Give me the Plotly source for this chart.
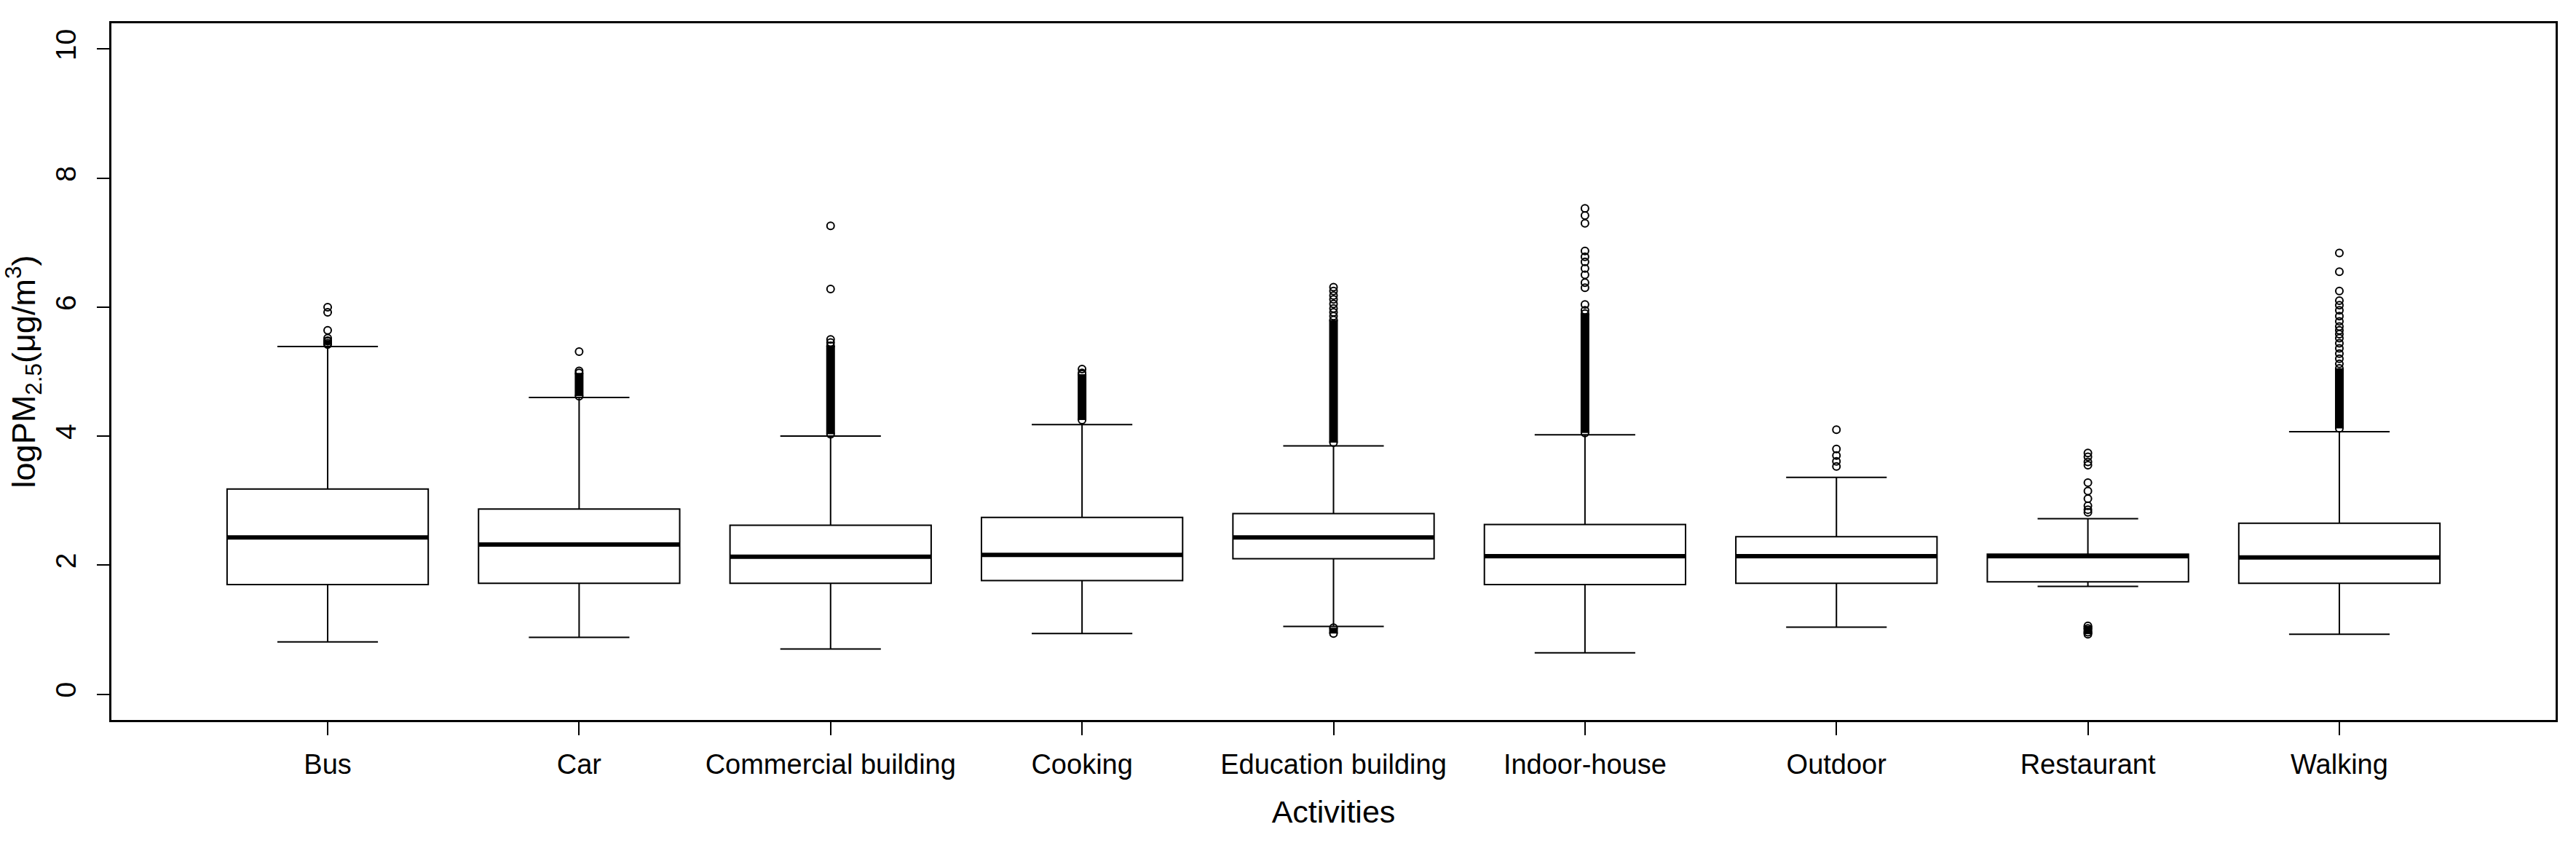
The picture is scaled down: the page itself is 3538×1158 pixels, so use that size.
import plotly.graph_objects as go

# ---------------- data ----------------
categories = ["Bus", "Car", "Commercial building", "Cooking", "Education building",
              "Indoor-house", "Outdoor", "Restaurant", "Walking"]
positions = [1, 2, 3, 4, 5, 6, 7, 8, 9]

q1 = [1.70, 1.72, 1.72, 1.76, 2.10, 1.70, 1.72, 1.74, 1.72]
median = [2.43, 2.32, 2.13, 2.16, 2.43, 2.14, 2.14, 2.14, 2.12]
q3 = [3.18, 2.87, 2.62, 2.74, 2.80, 2.63, 2.44, 2.17, 2.65]
lower_whisker = [0.81, 0.88, 0.70, 0.94, 1.05, 0.64, 1.04, 1.67, 0.93]
upper_whisker = [5.39, 4.60, 4.00, 4.18, 3.85, 4.02, 3.36, 2.72, 4.07]

# individual (sparse) outliers
outliers = [
    [5.44, 5.48, 5.52, 5.64, 5.92, 6.00],
    [5.01, 5.31],
    [5.45, 5.50, 6.28, 7.26],
    [4.98, 5.04],
    [5.86, 5.92, 5.98, 6.05, 6.12, 6.18, 6.25, 6.31],
    [5.95, 6.04, 6.30, 6.38, 6.50, 6.60, 6.70, 6.78, 6.87, 7.30, 7.42, 7.53],
    [3.53, 3.61, 3.70, 3.80, 4.10],
    [0.96, 1.02, 2.82, 2.86, 2.92, 3.03, 3.15, 3.28, 3.55, 3.60, 3.68, 3.74],
    [5.12, 5.20, 5.28, 5.36, 5.44, 5.52, 5.58, 5.64, 5.70, 5.78, 5.86, 5.95,
     6.03, 6.10, 6.25, 6.55, 6.84],
]

# ranges where outliers are so dense they form a solid column (low, high)
dense_upper_lo = [5.42, 4.62, 4.03, 4.25, 3.90, 4.05, None, None, 4.12]
dense_upper_hi = [5.47, 4.98, 5.40, 4.96, 5.80, 5.90, None, None, 5.05]
dense_lower_lo = [None, None, None, None, 0.94, None, None, 0.93, None]
dense_lower_hi = [None, None, None, None, 1.03, None, None, 1.06, None]

y_ticks = [0, 2, 4, 6, 8, 10]

# ---------------- figure ----------------
FONT = "Liberation Sans, Arial, sans-serif"
BOX_W = 0.8

fig = go.Figure()

for i, cat in enumerate(categories):
    fig.add_trace(go.Box(
        x=[positions[i]], q1=[q1[i]], median=[median[i]], q3=[q3[i]],
        lowerfence=[lower_whisker[i]], upperfence=[upper_whisker[i]],
        width=BOX_W, whiskerwidth=0.5, boxpoints=False,
        line=dict(color="black", width=2), fillcolor="white",
        name=cat, showlegend=False, hoverinfo="skip",
    ))

# thick median lines
mx, my = [], []
for i in range(len(categories)):
    mx += [positions[i] - BOX_W / 2, positions[i] + BOX_W / 2, None]
    my += [median[i], median[i], None]
fig.add_trace(go.Scatter(x=mx, y=my, mode="lines",
                         line=dict(color="black", width=6),
                         showlegend=False, hoverinfo="skip"))

# dense outlier columns
for lo_arr, hi_arr in [(dense_upper_lo, dense_upper_hi), (dense_lower_lo, dense_lower_hi)]:
    dx, dy = [], []
    for i in range(len(categories)):
        if lo_arr[i] is None:
            continue
        dx += [positions[i], positions[i], None]
        dy += [lo_arr[i], hi_arr[i], None]
    fig.add_trace(go.Scatter(x=dx, y=dy, mode="lines+markers",
                             line=dict(color="black", width=12),
                             marker=dict(symbol="circle-open", size=10, color="black",
                                         line=dict(width=2, color="black")),
                             showlegend=False, hoverinfo="skip"))

# sparse outliers
ox, oy = [], []
for i in range(len(categories)):
    for v in outliers[i]:
        ox.append(positions[i])
        oy.append(v)
fig.add_trace(go.Scatter(x=ox, y=oy, mode="markers",
                         marker=dict(symbol="circle-open", size=10, color="black",
                                     line=dict(width=2, color="black")),
                         showlegend=False, hoverinfo="skip"))

fig.update_layout(
    width=3538, height=1158,
    margin=dict(l=153, r=28, t=32, b=169, pad=0),
    paper_bgcolor="white", plot_bgcolor="white",
    font=dict(family=FONT, color="black"),
    showlegend=False,
)

fig.update_xaxes(
    range=[0.14, 9.86], tickmode="array", tickvals=positions, ticktext=categories,
    ticks="outside", ticklen=18, tickwidth=2, tickcolor="black",
    showline=True, linewidth=2.5, linecolor="black", mirror=True,
    showgrid=False, zeroline=False,
    tickfont=dict(size=38, family=FONT, color="black"),
    ticklabelstandoff=8,
    title=dict(text="Activities", font=dict(size=43, family=FONT, color="black"),
               standoff=30),
)

fig.update_yaxes(
    range=[-0.4, 10.4], tickmode="array", tickvals=y_ticks,
    ticktext=[str(t) for t in y_ticks], tickangle=-90,
    ticks="outside", ticklen=17, tickwidth=2, tickcolor="black",
    showline=True, linewidth=2.5, linecolor="black", mirror=True,
    showgrid=False, zeroline=False,
    tickfont=dict(size=39, family=FONT, color="black"),
    ticklabelstandoff=14,
    title=dict(text="logPM<sub>2.5</sub>(μg/m<sup>3</sup>)",
               font=dict(size=45, family=FONT, color="black"), standoff=8),
)

fig.write_html("out.html", config={"displayModeBar": False},
               post_script="document.body.style.margin='0';")
